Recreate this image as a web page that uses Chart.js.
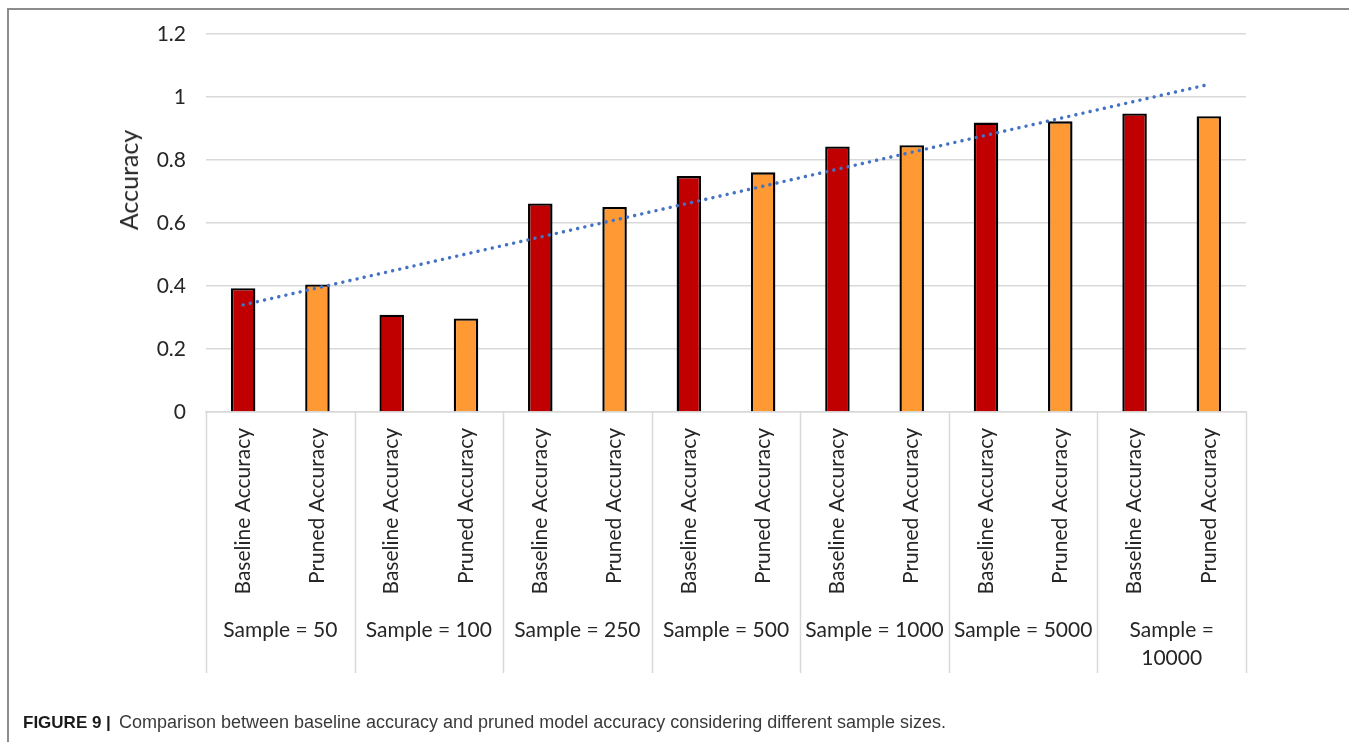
<!DOCTYPE html>
<html>
<head>
<meta charset="utf-8">
<script src="https://cdn.jsdelivr.net/npm/chart.js@4.4.1/dist/chart.umd.min.js"></script>
<style>
  html, body { margin: 0; padding: 0; background: #fff; }
  #wrap { position: relative; width: 1349px; height: 742px; overflow: hidden; }
  #frame { position: absolute; left: 7px; top: 8px; width: 1400px; height: 800px;
           border-left: 2px solid #8c8c8c; border-top: 2px solid #8c8c8c; }
  #chart { position: absolute; left: 0; top: 0; }
  #ytitle { position: absolute; left: 128px; top: 180px; transform: translate(-50%, -50%) rotate(-90deg);
            font-family: Lato, "Open Sans", sans-serif; font-size: 25px; color: #262626; white-space: nowrap; }
  #caption { position: absolute; left: 23px; top: 711px; line-height: 22px;
             font-family: "Liberation Sans", Arial, sans-serif; font-size: 18px; color: #3a3a3a; white-space: nowrap; }
  #caption b { font-size: 17px; color: #1a1a1a; margin-right: 3px; }
</style>
</head>
<body>
<div id="wrap">
  <div id="frame"></div>
  <canvas id="chart" width="1349" height="742"></canvas>
  <div id="ytitle">Accuracy</div>
  <div id="caption"><b>FIGURE 9 |</b> Comparison between baseline accuracy and pruned model accuracy considering different sample sizes.</div>
</div>
<script>
// Sample-size groups (second row of the category axis)
const groups = ['Sample = 50', 'Sample = 100', 'Sample = 250', 'Sample = 500',
                'Sample = 1000', 'Sample = 5000', ['Sample =', '10000']];
// Bar labels inside each group
const seriesNames = ['Baseline Accuracy', 'Pruned Accuracy'];
// Accuracy per sample size
const baseline = [0.393, 0.309, 0.662, 0.749, 0.843, 0.919, 0.948];
const pruned   = [0.405, 0.297, 0.651, 0.761, 0.847, 0.923, 0.939];
// Linear trend line end values (first and last bar)
const trendStart = 0.34;
const trendEnd = 1.04;
// Value axis
const yMin = 0, yMax = 1.2, yStep = 0.2;

const baseColor = '#C00000';
const prunedColor = '#FF9933';
const gridColor = '#d9d9d9';
const textColor = '#262626';
const labelFont = { family: 'Lato, "Open Sans", sans-serif', size: 21 };

// Interleave the two series into one row of bars
const categories = [];
const values = [];
const colors = [];
groups.forEach((g, i) => {
  categories.push(seriesNames[0], seriesNames[1]);
  values.push(baseline[i], pruned[i]);
  colors.push(baseColor, prunedColor);
});
const trend = categories.map(() => null);
trend[0] = trendStart;
trend[trend.length - 1] = trendEnd;

// Vertical separators between sample-size groups, running through both label rows
const groupSeparators = {
  id: 'groupSeparators',
  afterDraw(chart) {
    const x = chart.scales.x, x2 = chart.scales.x2;
    const ctx = chart.ctx;
    const step = x.getPixelForValue(1) - x.getPixelForValue(0);
    ctx.save();
    ctx.strokeStyle = gridColor;
    ctx.lineWidth = 1.5;
    for (let g = 0; g <= groups.length; g++) {
      const px = Math.round(x.getPixelForValue(g * 2) - step / 2) + 0.5;
      ctx.beginPath();
      ctx.moveTo(px, chart.chartArea.bottom);
      ctx.lineTo(px, x2.bottom);
      ctx.stroke();
    }
    ctx.restore();
  }
};

new Chart(document.getElementById('chart'), {
  data: {
    labels: categories,
    datasets: [
      {
        type: 'line',
        data: trend,
        spanGaps: true,
        borderColor: '#4472C4',
        borderWidth: 3.4,
        borderDash: [0.1, 7.2],
        borderCapStyle: 'round',
        pointRadius: 0,
        fill: false,
        order: 0
      },
      {
        type: 'bar',
        data: values,
        backgroundColor: colors,
        borderColor: '#000',
        borderWidth: 2.4,
        barPercentage: 0.33,
        categoryPercentage: 1,
        order: 1
      }
    ]
  },
  options: {
    responsive: false,
    animation: false,
    layout: { padding: { left: 0, top: 34, right: 103, bottom: 69 } },
    plugins: { legend: { display: false }, tooltip: { enabled: false } },
    scales: {
      y: {
        min: yMin, max: yMax,
        ticks: { stepSize: yStep, padding: 20, color: textColor, font: labelFont,
                 callback: (v) => String(+v.toFixed(2)) },
        grid: { color: gridColor, lineWidth: 1.5, drawTicks: false },
        border: { display: false },
        afterFit(s) { s.width = 206; }
      },
      x: {
        type: 'category',
        position: 'bottom',
        offset: true,
        ticks: { autoSkip: false, minRotation: 90, maxRotation: 90, padding: 16,
                 color: textColor, font: labelFont },
        grid: { display: false, drawTicks: false },
        border: { display: true, color: gridColor, width: 1.5 },
        afterFit(s) { s.height = 186; }
      },
      x2: {
        type: 'category',
        position: 'bottom',
        labels: groups,
        offset: true,
        ticks: { autoSkip: false, maxRotation: 0, padding: 19, color: textColor,
                 font: Object.assign({ lineHeight: 1.3 }, labelFont) },
        grid: { display: false, drawTicks: false },
        border: { display: false },
        afterFit(s) { s.height = 75; }
      }
    }
  },
  plugins: [groupSeparators]
});
</script>
</body>
</html>
